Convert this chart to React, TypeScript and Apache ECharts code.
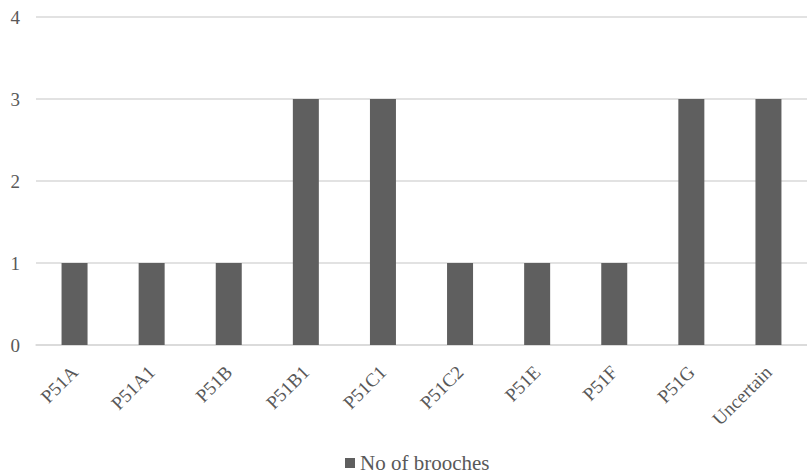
import React, { useEffect, useRef } from "react";
import * as echarts from "echarts";

const categories = ["P51A", "P51A1", "P51B", "P51B1", "P51C1", "P51C2", "P51E", "P51F", "P51G", "Uncertain"];
const broochCounts = [1, 1, 1, 3, 3, 1, 1, 1, 3, 3];
const seriesName = "No of brooches";

const FONT = "'Liberation Serif', 'DejaVu Serif', serif";

export default function App() {
  const ref = useRef<HTMLDivElement>(null);

  useEffect(() => {
    document.body.style.margin = "0";
    const chart = echarts.init(ref.current!, null, { renderer: "svg" });
    chart.setOption({
      animation: false,
      backgroundColor: "#ffffff",
      grid: { left: 36, right: 0, top: 17, bottom: 130, containLabel: false },
      legend: {
        top: 452,
        left: 345,
        padding: 0,
        icon: "rect",
        itemWidth: 10,
        itemHeight: 10,
        itemGap: 6,
        textStyle: { fontFamily: FONT, fontSize: 21, color: "#595959", lineHeight: 22 },
        data: [seriesName],
      },
      xAxis: {
        type: "category",
        data: categories,
        axisLine: { show: true, lineStyle: { color: "#d9d9d9", width: 1.5 } },
        axisTick: { show: false },
        axisLabel: {
          rotate: 45,
          margin: 24,
          interval: 0,
          fontFamily: FONT,
          fontSize: 19,
          color: "#595959",
        },
      },
      yAxis: {
        type: "value",
        min: 0,
        max: 4,
        interval: 1,
        axisLine: { show: false },
        axisTick: { show: false },
        splitLine: { lineStyle: { color: "#d9d9d9", width: 1.5 } },
        axisLabel: {
          margin: 16,
          fontFamily: FONT,
          fontSize: 19,
          color: "#595959",
        },
      },
      series: [
        {
          name: seriesName,
          type: "bar",
          data: broochCounts,
          barWidth: 26,
          itemStyle: { color: "#5f5f5f" },
        },
      ],
    });
    return () => chart.dispose();
  }, []);

  return <div ref={ref} style={{ width: 807, height: 475 }} />;
}
